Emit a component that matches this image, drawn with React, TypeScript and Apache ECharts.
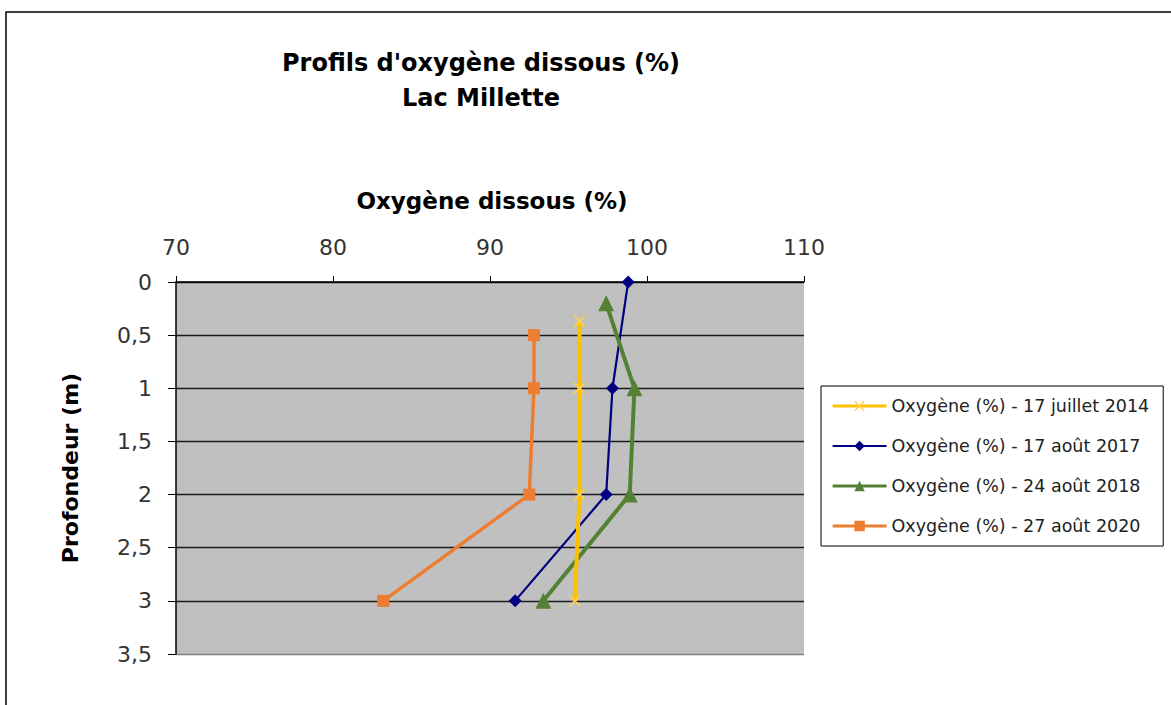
import React, { useEffect, useRef } from "react";
import * as echarts from "echarts";

const seriesNames = [
  "Oxygène (%) - 17 juillet 2014",
  "Oxygène (%) - 17 août 2017",
  "Oxygène (%) - 24 août 2018",
  "Oxygène (%) - 27 août 2020",
];

// [oxygen %, depth m]
const oxy2014: [number, number][] = [
  [95.7, 0.37],
  [95.7, 1],
  [95.7, 2],
  [95.4, 3],
];
const oxy2017: [number, number][] = [
  [98.8, 0],
  [97.8, 1],
  [97.4, 2],
  [91.6, 3],
];
const oxy2018: [number, number][] = [
  [97.4, 0.2],
  [99.2, 1],
  [98.9, 2],
  [93.4, 3],
];
const oxy2020: [number, number][] = [
  [92.8, 0.5],
  [92.8, 1],
  [92.5, 2],
  [83.2, 3],
];

const xMin = 70;
const xMax = 110;
const xStep = 10;
const yMin = 0;
const yMax = 3.5;
const yStep = 0.5;

const FONT = "DejaVu Sans";

const crossPath =
  "path://M0,1L1,0L5,4L9,0L10,1L6,5L10,9L9,10L5,6L1,10L0,9L4,5Z";

const colors = ["#FFC000", "#000080", "#548235", "#ED7D31"];
const lineWidths = [4, 2.2, 4, 3.5];

export default function App() {
  const ref = useRef<HTMLDivElement>(null);

  useEffect(() => {
    if (!ref.current) return;
    const chart = echarts.init(ref.current, null, { renderer: "svg" });
    const gridLeft = 176;
    const gridTop = 282;
    const gridWidth = 628;
    const gridHeight = 372;

    const option: any = {
      animation: false,
      backgroundColor: "#ffffff",
      textStyle: { fontFamily: FONT },
      title: {
        text: "Profils d'oxygène dissous (%)\nLac Millette",
        left: 476,
        top: 40,
        textAlign: "center",
        textStyle: {
          fontFamily: FONT,
          fontSize: 24,
          fontWeight: "bold",
          color: "#000",
          lineHeight: 35,
        },
      },
      graphic: [
        {
          type: "rect",
          shape: { x: 6, y: 12, width: 1300, height: 900 },
          style: { fill: "none", stroke: "#000", lineWidth: 1.5 },
          silent: true,
          z: 100,
        },
        {
          type: "text",
          x: 492,
          y: 201,
          style: {
            text: "Oxygène dissous (%)",
            fontFamily: FONT,
            fontSize: 23,
            fontWeight: "bold",
            fill: "#000",
            align: "center",
            verticalAlign: "middle",
          },
        },
        {
          type: "text",
          x: 70,
          y: 468,
          rotation: Math.PI / 2,
          style: {
            text: "Profondeur (m)",
            fontFamily: FONT,
            fontSize: 22,
            fontWeight: "bold",
            fill: "#000",
            align: "center",
            verticalAlign: "middle",
          },
        },
      ],
      legend: {
        orient: "vertical",
        left: 821,
        top: 386,
        padding: [10, 14, 10, 10],
        itemGap: 20,
        itemWidth: 54,
        itemHeight: 13,
        borderColor: "#000",
        borderWidth: 1,
        backgroundColor: "#fff",
        textStyle: {
          fontFamily: FONT,
          fontSize: 17.5,
          color: "#222",
          lineHeight: 20,
        },
        data: seriesNames.map((n, i) => ({
          name: n,
          lineStyle: { width: lineWidths[i] * 0.8 },
        })),
      },
      grid: {
        left: gridLeft,
        top: gridTop,
        width: gridWidth,
        height: gridHeight,
        show: true,
        backgroundColor: "#c0c0c0",
        borderWidth: 0,
      },
      xAxis: {
        type: "value",
        position: "top",
        min: xMin,
        max: xMax,
        interval: xStep,
        axisLine: { show: true, lineStyle: { color: "#000", width: 1.5 } },
        axisTick: {
          show: true,
          inside: false,
          length: 6,
          lineStyle: { color: "#000", width: 1 },
        },
        axisLabel: {
          margin: 24,
          fontFamily: FONT,
          fontSize: 22,
          color: "#333",
        },
        splitLine: { show: false },
      },
      yAxis: {
        type: "value",
        inverse: true,
        min: yMin,
        max: yMax,
        interval: yStep,
        axisLine: { show: true, lineStyle: { color: "#000", width: 1.5 } },
        axisTick: {
          show: true,
          inside: false,
          length: 8,
          lineStyle: { color: "#000", width: 1 },
        },
        axisLabel: {
          margin: 24,
          fontFamily: FONT,
          fontSize: 22,
          color: "#333",
          formatter: (v: number) => String(v).replace(".", ","),
        },
        splitLine: {
          show: true,
          lineStyle: {
            color: [
              "#1a1a1a",
              "#1a1a1a",
              "#1a1a1a",
              "#1a1a1a",
              "#1a1a1a",
              "#1a1a1a",
              "#1a1a1a",
              "#808080",
            ],
            width: 1.3,
          },
        },
      },
      series: [
        {
          name: seriesNames[0],
          type: "line",
          data: oxy2014,
          symbol: crossPath,
          symbolSize: 12,
          lineStyle: { color: colors[0], width: lineWidths[0] },
          itemStyle: { color: "#FFD24D" },
          z: 5,
        },
        {
          name: seriesNames[1],
          type: "line",
          data: oxy2017,
          symbol: "diamond",
          symbolSize: 13,
          lineStyle: { color: colors[1], width: lineWidths[1] },
          itemStyle: { color: colors[1] },
          z: 3,
        },
        {
          name: seriesNames[2],
          type: "line",
          data: oxy2018,
          symbol: "triangle",
          symbolSize: 16,
          lineStyle: { color: colors[2], width: lineWidths[2] },
          itemStyle: { color: colors[2] },
          z: 4,
        },
        {
          name: seriesNames[3],
          type: "line",
          data: oxy2020,
          symbol: "rect",
          symbolSize: 12,
          lineStyle: { color: colors[3], width: lineWidths[3] },
          itemStyle: { color: colors[3] },
          z: 6,
        },
      ],
    };

    chart.setOption(option);
    return () => {
      chart.dispose();
    };
  }, []);

  return (
    <div
      ref={ref}
      style={{
        position: "fixed",
        left: 0,
        top: 0,
        width: 1171,
        height: 705,
        background: "#fff",
      }}
    />
  );
}
